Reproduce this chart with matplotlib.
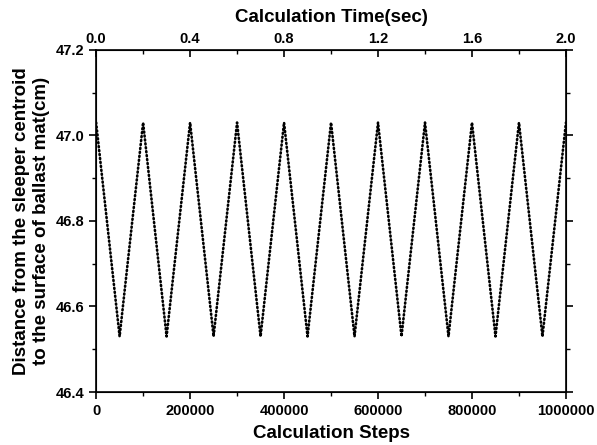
import matplotlib.pyplot as plt
from matplotlib.ticker import MultipleLocator

plt.rcParams['font.family'] = ['Liberation Sans', 'DejaVu Sans']
plt.rcParams['font.weight'] = 'bold'

# turning points of the sleeper motion (calculation step, distance in cm)
steps = [0, 50000, 100000, 150000, 200000, 250000, 300000, 350000, 400000,
         450000, 500000, 550000, 600000, 650000, 700000, 750000, 800000,
         850000, 900000, 950000, 1000000]
distance = [47.03, 46.53, 47.03, 46.53, 47.03, 46.53, 47.03, 46.53, 47.03,
            46.53, 47.03, 46.53, 47.03, 46.53, 47.03, 46.53, 47.03,
            46.53, 47.03, 46.53, 47.03]

time_ticks = [0.0, 0.4, 0.8, 1.2, 1.6, 2.0]

fig = plt.figure(figsize=(5.97, 4.45), dpi=100)
ax = fig.add_axes([0.161, 0.119, 0.787, 0.769])

ax.plot(steps, distance, color='black', linewidth=1.9,
        linestyle=(0, (0.4, 1.1)), dash_capstyle='round')

ax.set_xlim(0, 1000000)
ax.set_ylim(46.4, 47.2)
ax.xaxis.set_major_locator(MultipleLocator(200000))
ax.xaxis.set_minor_locator(MultipleLocator(100000))
ax.xaxis.set_major_formatter(plt.FuncFormatter(lambda v, p: f"{int(round(v))}"))
ax.yaxis.set_major_locator(MultipleLocator(0.2))
ax.yaxis.set_minor_locator(MultipleLocator(0.1))
ax.yaxis.set_major_formatter(plt.FuncFormatter(lambda v, p: f"{v:.1f}"))
ax.tick_params(axis='both', which='major', length=5, width=1.2, labelsize=10.5)
ax.tick_params(axis='both', which='minor', length=3, width=1.0)
ax.tick_params(axis='y', which='both', right=True)
for s in ax.spines.values():
    s.set_linewidth(1.2)

ax.set_xlabel("Calculation Steps", fontsize=13.5, fontweight='bold', labelpad=5)
ax.set_ylabel("Distance from the sleeper centroid\nto the surface of ballast mat(cm)",
              fontsize=13.5, fontweight='bold', labelpad=4, linespacing=1.25)

top = ax.twiny()
top.set_xlim(0, 2.0)
top.set_xticks(time_ticks)
top.xaxis.set_minor_locator(MultipleLocator(0.2))
top.xaxis.set_major_formatter(plt.FuncFormatter(lambda v, p: f"{v:.1f}"))
top.tick_params(axis='x', which='major', direction='in', length=5, width=1.2,
                labelsize=10.5, pad=3)
top.tick_params(axis='x', which='minor', direction='in', length=3, width=1.0)
top.set_xlabel("Calculation Time(sec)", fontsize=13.5, fontweight='bold', labelpad=7)

fig.savefig("out.png", dpi=100)
